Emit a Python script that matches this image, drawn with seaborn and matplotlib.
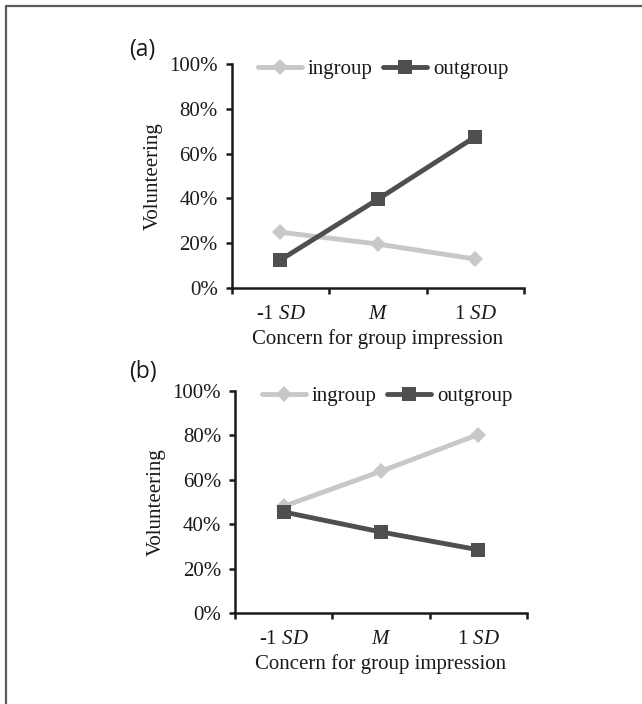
import matplotlib
matplotlib.use('Agg')
import matplotlib.pyplot as plt
from matplotlib.lines import Line2D
import seaborn as sns
import pandas as pd

# values (percent volunteering)
levels = ['-1 $\\mathit{SD}$', '$\\mathit{M}$', '1 $\\mathit{SD}$']
groups = ['ingroup', 'outgroup']
a_ingroup = [24.9, 19.6, 12.9]
a_outgroup = [12.5, 39.6, 67.5]
b_ingroup = [48.0, 63.8, 80.3]
b_outgroup = [45.5, 36.5, 28.5]
yticks = [0, 20, 40, 60, 80, 100]

COLORS = {'ingroup': '#c8c8c8', 'outgroup': '#4f4f4f'}
MARKERS = {'ingroup': 'D', 'outgroup': 's'}
INK = '#1a1a1a'

sns.set_style('white')
plt.rcParams.update({
    'font.family': ['Liberation Serif', 'DejaVu Serif'],
    'font.size': 15,
    'mathtext.fontset': 'custom',
    'mathtext.rm': 'Liberation Serif',
    'mathtext.it': 'Liberation Serif:italic',
    'text.color': INK,
    'axes.labelcolor': INK,
    'xtick.color': INK,
    'ytick.color': INK,
})


def make_df(ing, outg):
    rows = []
    for g, vals in zip(groups, [ing, outg]):
        for i, v in enumerate(vals):
            rows.append({'pos': i, 'value': v, 'group': g})
    return pd.DataFrame(rows)


def draw_panel(ax, df, tag, tag_xy, leg_xy):
    sns.lineplot(data=df, x='pos', y='value', hue='group', style='group',
                 hue_order=groups, style_order=groups, palette=COLORS,
                 markers=MARKERS, dashes=False, ax=ax, legend=False,
                 linewidth=3.5, markersize=10, markeredgewidth=0)
    # diamond a bit smaller than the square
    for ln, g in zip(ax.lines, groups):
        ln.set_markersize(8.6 if g == 'ingroup' else 10.5)
        ln.set_markeredgecolor(COLORS[g])
        ln.set_clip_on(False)
    ax.set_xlim(-0.5, 2.5)
    ax.set_ylim(0, 100)
    ax.set_yticks(yticks)
    ax.set_yticklabels([f'{v}%' for v in yticks])
    # excel style: ticks on category borders, labels in the middle
    ax.set_xticks([-0.5, 0.5, 1.5, 2.5])
    ax.set_xticklabels([])
    ax.set_xticks([0, 1, 2], minor=True)
    ax.set_xticklabels(levels, minor=True)
    ax.tick_params(axis='x', which='major', direction='out', length=4, width=1.8, bottom=True)
    ax.tick_params(axis='x', which='minor', length=0, pad=12)
    ax.tick_params(axis='y', direction='out', length=4, width=1.8, pad=6, left=True)
    sns.despine(ax=ax)
    for s in ['left', 'bottom']:
        ax.spines[s].set_linewidth(1.8)
        ax.spines[s].set_color(INK)
    ax.set_xlabel('Concern for group impression', labelpad=4)
    ax.set_ylabel('Volunteering', labelpad=5)
    ax.legend(handles=ax.lines[:2], labels=groups, loc='center left',
              bbox_to_anchor=leg_xy, ncol=2, frameon=False,
              borderpad=0, borderaxespad=0, handlelength=2.1,
              handletextpad=0.3, columnspacing=0.5)
    ax.text(tag_xy[0], tag_xy[1], tag, transform=ax.transAxes, family=['Open Sans', 'DejaVu Sans'],
            fontsize=16.5, ha='center', va='center', color=INK)


fig = plt.figure(figsize=(6.42, 7.04), dpi=100)
ax_a = fig.add_axes([0.361, 0.591, 0.455, 0.318])
ax_b = fig.add_axes([0.366, 0.129, 0.455, 0.316])

draw_panel(ax_a, make_df(a_ingroup, a_outgroup), '(a)', (-0.305, 1.065), (0.089, 0.975))
draw_panel(ax_b, make_df(b_ingroup, b_outgroup), '(b)', (-0.315, 1.085), (0.092, 0.975))

# frame lines (top and left only)
fig.add_artist(Line2D([6 / 642, 1], [1 - 6 / 704, 1 - 6 / 704], transform=fig.transFigure,
                      color='#5c5c5c', linewidth=1.6))
fig.add_artist(Line2D([6 / 642, 6 / 642], [0, 1 - 6 / 704], transform=fig.transFigure,
                      color='#5c5c5c', linewidth=1.6))

fig.savefig('out.png', dpi=100)
